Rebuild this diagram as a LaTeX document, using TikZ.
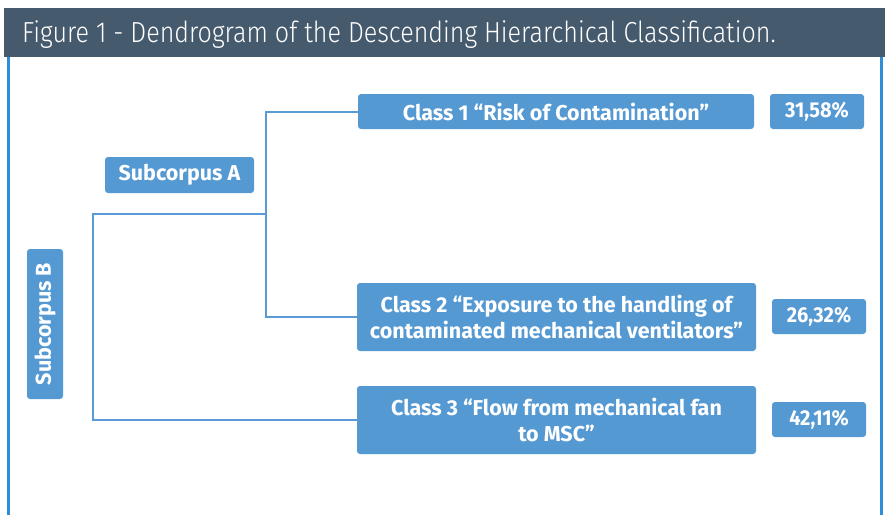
\documentclass[tikz,border=0pt]{standalone}
\usepackage{fontspec}
\setmainfont{Fira Sans}
\newfontfamily\titlefont[FakeStretch=0.865]{Fira Sans Light}
\newfontfamily\boxfont{Fira Sans Bold}
\newfontfamily\pctfont[FakeStretch=0.93]{Fira Sans Bold}
\definecolor{hdr}{HTML}{465A6E}
\definecolor{boxblue}{HTML}{5599D3}
\definecolor{linkblue}{HTML}{5B9BD5}
\definecolor{framebl}{HTML}{2E8CD8}
\tikzset{
  cbox/.style={fill=boxblue, rounded corners=3pt, inner sep=0pt, text=white, align=center,
    font=\boxfont\fontsize{21.5}{26.5}\selectfont},
  pbox/.style={cbox, minimum width=94pt, minimum height=35pt, font=\pctfont\fontsize{21.5}{26.5}\selectfont},
  link/.style={draw=linkblue, line width=2pt},
}
\begin{document}
\begin{tikzpicture}[x=1pt,y=-1pt]
\useasboundingbox (0,0) rectangle (885,515);
\fill[white] (0,0) rectangle (885,515);
% header
\fill[hdr] (4,8) rectangle (885,57);
\node[anchor=base west, text=white, inner sep=0pt, font=\titlefont\fontsize{29}{32}\selectfont] (title) at (22,42) {Figure 1 - Dendrogram of the Descending Hierarchical Classification.};
% frame
\draw[framebl, line width=3pt] (8.5,57) -- (8.5,515);
\draw[framebl, line width=3pt] (881,57) -- (881,515);
% boxes
\node[cbox, minimum width=396pt, minimum height=35pt] (c1) at (556,111.5) {Class 1 “Risk of Contamination”};
\node[pbox] (p1) at (817,111.5) {31,58\%};
\node[cbox, minimum width=149pt, minimum height=36pt] (sa) at (179.5,175) {Subcorpus A};
\node[cbox, minimum width=150pt, minimum height=36pt, rotate=90] (sb) at (45,324) {Subcorpus B};
\node[cbox, minimum width=399pt, minimum height=68pt] (c2) at (556.5,317) {Class 2 “Exposure to the handling of\\contaminated mechanical ventilators”};
\node[pbox] (p2) at (819,316.5) {26,32\%};
\node[cbox, minimum width=399pt, minimum height=68pt] (c3) at (556.5,420) {Class 3 “Flow from mechanical fan\\to MSC”};
\node[pbox] (p3) at (819,419.5) {42,11\%};
% dendrogram
\coordinate (ja) at (266,214);
\coordinate (jb) at (93,214);
\draw[link] (c1.west) -| (ja) |- (c2.west);
\draw[link] (ja) -- (jb) |- (c3.west);
\end{tikzpicture}
\end{document}
